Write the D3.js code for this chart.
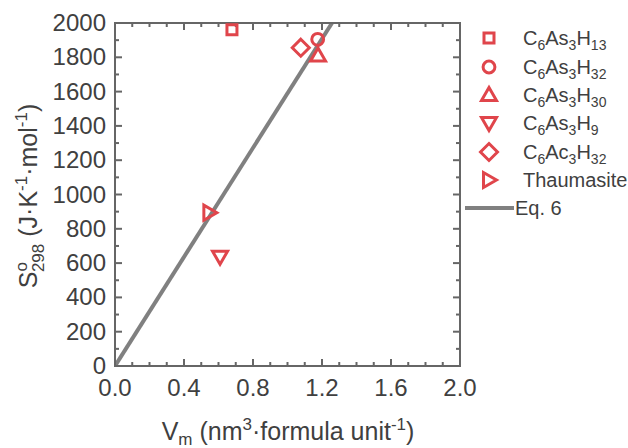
<!DOCTYPE html>
<html>
<head>
<meta charset="utf-8">
<script src="https://cdn.jsdelivr.net/npm/d3@7"></script>
<style>
  body { margin: 0; background: #fff; }
  text { font-family: "Liberation Sans", Arial, sans-serif; fill: #404040; }
</style>
</head>
<body>
<svg class="graph"></svg>
<script>
// data
var names = ["C6As3H13", "C6As3H32", "C6As3H30", "C6As3H9", "C6Ac3H32", "Thaumasite"];
var shapes = ["square", "circle", "up", "down", "diamond", "right"];
var vm = [0.678, 1.175, 1.177, 0.609, 1.077, 0.547];
var s298 = [1960, 1905, 1810, 637, 1856, 894];
// Eq. 6 line
var eqX = [0, 1.258];
var eqY = [0, 2000];

var xTicks = [0, 0.4, 0.8, 1.2, 1.6, 2.0];
var yTicks = [0, 200, 400, 600, 800, 1000, 1200, 1400, 1600, 1800, 2000];

var width = 628, height = 448;
var pL = 115, pR = 460, pT = 23, pB = 366;
var red = "#e0454b";
var axisColor = "#666";

var svg = d3.select(".graph").attr("width", width).attr("height", height);

var x = d3.scaleLinear().domain([0, 2]).range([pL, pR]);
var y = d3.scaleLinear().domain([0, 2000]).range([pB, pT]);

var xMinor = d3.range(0, 2.0001, 0.1).map(function(d){return +d.toFixed(2);});
var yMinor = d3.range(0, 2001, 100);

// eq line, clipped
svg.append("clipPath").attr("id", "clip").append("rect")
  .attr("x", pL).attr("y", pT).attr("width", pR-pL).attr("height", pB-pT);
svg.append("line")
  .attr("clip-path", "url(#clip)")
  .attr("x1", x(eqX[0])).attr("y1", y(eqY[0]))
  .attr("x2", x(eqX[1])).attr("y2", y(eqY[1]))
  .attr("stroke", "#808080").attr("stroke-width", 4);

// frame
svg.append("rect")
  .attr("x", pL).attr("y", pT).attr("width", pR-pL).attr("height", pB-pT)
  .attr("fill", "none").attr("stroke", axisColor).attr("stroke-width", 2);

// ticks (inward, all four sides)
function isMajorX(v){ return xTicks.some(function(t){return Math.abs(t-v)<1e-6;}); }
xMinor.forEach(function(v){
  var len = isMajorX(v) ? 7 : 4;
  svg.append("line").attr("x1", x(v)).attr("x2", x(v)).attr("y1", pB).attr("y2", pB-len)
    .attr("stroke", axisColor).attr("stroke-width", 2);
  svg.append("line").attr("x1", x(v)).attr("x2", x(v)).attr("y1", pT).attr("y2", pT+len)
    .attr("stroke", axisColor).attr("stroke-width", 2);
});
yMinor.forEach(function(v){
  var len = (v % 200 == 0) ? 7 : 4;
  svg.append("line").attr("y1", y(v)).attr("y2", y(v)).attr("x1", pL).attr("x2", pL+len)
    .attr("stroke", axisColor).attr("stroke-width", 2);
  svg.append("line").attr("y1", y(v)).attr("y2", y(v)).attr("x1", pR).attr("x2", pR-len)
    .attr("stroke", axisColor).attr("stroke-width", 2);
});

// tick labels
svg.selectAll(".xl").data(xTicks).enter().append("text")
  .attr("x", function(d){return x(d);})
  .attr("y", pB + 30)
  .attr("text-anchor", "middle")
  .attr("font-size", "24px")
  .text(function(d){return d.toFixed(1);});
svg.selectAll(".yl").data(yTicks).enter().append("text")
  .attr("x", pL - 9)
  .attr("y", function(d){return y(d) + 8;})
  .attr("text-anchor", "end")
  .attr("font-size", "24px")
  .text(function(d){return d;});

// axis titles
var xt = svg.append("text").attr("x", 288).attr("y", 440).attr("text-anchor", "middle").attr("font-size", "25px");
xt.append("tspan").text("V");
xt.append("tspan").attr("dy", 5).attr("font-size", "17px").text("m");
xt.append("tspan").attr("dy", -5).text(" (nm");
xt.append("tspan").attr("dy", -10).attr("font-size", "17px").text("3");
xt.append("tspan").attr("dy", 10).text("\u00b7formula unit");
xt.append("tspan").attr("dy", -10).attr("font-size", "17px").text("-1");
xt.append("tspan").attr("dy", 10).text(")");

var yt = svg.append("text").attr("transform", "translate(37,196) rotate(-90)")
  .attr("text-anchor", "middle").attr("font-size", "25px");
yt.append("tspan").text("S");
yt.append("tspan").attr("dy", -10).attr("font-size", "17px").text("o");
yt.append("tspan").attr("dy", 17).attr("dx", -10).attr("font-size", "17px").text("298");
yt.append("tspan").attr("dy", -7).text(" (J\u00b7K");
yt.append("tspan").attr("dy", -10).attr("font-size", "17px").text("-1");
yt.append("tspan").attr("dy", 10).text("\u00b7mol");
yt.append("tspan").attr("dy", -10).attr("font-size", "17px").text("-1");
yt.append("tspan").attr("dy", 10).text(")");

// marker paths
function markerPath(shape) {
  if (shape == "square") return d3.symbol().type(d3.symbolSquare).size(100)();
  if (shape == "circle") return d3.symbol().type(d3.symbolCircle).size(110)();
  if (shape == "diamond") return "M0,-8.5L8.5,0L0,8.5L-8.5,0Z";
  if (shape == "up") return "M0,-7.5L7.5,5.5L-7.5,5.5Z";
  if (shape == "down") return "M0,7.5L7.5,-5.5L-7.5,-5.5Z";
  if (shape == "right") return "M7.5,0L-5.5,7.5L-5.5,-7.5Z";
}

var data = names.map(function(n, i){ return {name: n, shape: shapes[i], x: vm[i], y: s298[i]}; });

svg.selectAll(".pt").data(data).enter().append("path")
  .attr("d", function(d){return markerPath(d.shape);})
  .attr("transform", function(d){return "translate(" + x(d.x) + "," + y(d.y) + ")";})
  .attr("fill", "none").attr("stroke", red).attr("stroke-width", 3)
  .attr("stroke-linejoin", "miter");

// legend
var legY = [38, 67, 95, 123, 152, 180];
var leg = svg.append("g");
data.forEach(function(d, i){
  leg.append("path").attr("d", markerPath(d.shape))
    .attr("transform", "translate(489," + legY[i] + ")")
    .attr("fill", "none").attr("stroke", red).attr("stroke-width", 3);
  var t = leg.append("text").attr("x", 523).attr("y", legY[i] + 7).attr("font-size", "20px");
  var m = d.name.match(/^C6(A[sc])3H(\d+)$/);
  if (m) {
    t.append("tspan").text("C");
    t.append("tspan").attr("dy", 5).attr("font-size", "14px").text("6");
    t.append("tspan").attr("dy", -5).text(m[1]);
    t.append("tspan").attr("dy", 5).attr("font-size", "14px").text("3");
    t.append("tspan").attr("dy", -5).text("H");
    t.append("tspan").attr("dy", 5).attr("font-size", "14px").text(m[2]);
  } else {
    t.text(d.name);
  }
});
leg.append("line").attr("x1", 465).attr("x2", 514).attr("y1", 208).attr("y2", 208)
  .attr("stroke", "#808080").attr("stroke-width", 4);
leg.append("text").attr("x", 515).attr("y", 215).attr("font-size", "20px").text("Eq. 6");
</script>
</body>
</html>
